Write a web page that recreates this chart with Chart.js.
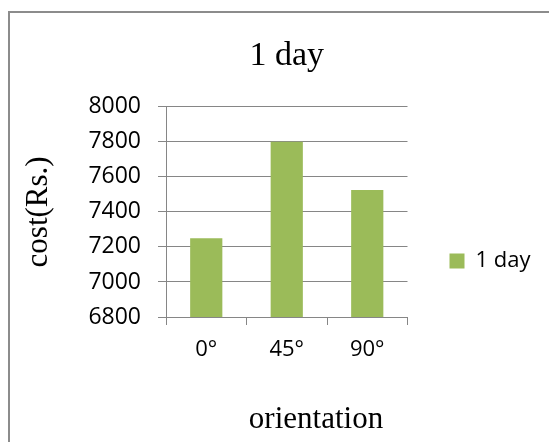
<!DOCTYPE html>
<html>
<head>
<meta charset="utf-8">
<title>1 day</title>
<script src="https://cdn.jsdelivr.net/npm/chart.js@4/dist/chart.umd.min.js"></script>
<style>
  html, body { margin: 0; padding: 0; background: #ffffff; overflow: hidden; }
  #wrap { width: 549px; height: 442px; overflow: hidden; }
  canvas { display: block; }
</style>
</head>
<body>
<div id="wrap"><canvas id="chart" width="549" height="510"></canvas></div>
<script>
// Cost in rupees for one day, by panel orientation
const categories = ['0°', '45°', '90°'];
const seriesName = '1 day';
const costValues = [7250, 7800, 7525];
const yTickMin = 6800;
const yTickMax = 8000;
const yTickStep = 200;
const xAxisCaption = 'orientation';

const SANS = '"Open Sans", "Liberation Sans", sans-serif';
const SERIF = '"Liberation Serif", "Times New Roman", serif';
const GRID = '#868686';

// Plain grey frame around the whole chart
const frame = {
  id: 'frame',
  beforeDraw(chart) {
    const ctx = chart.ctx;
    ctx.save();
    ctx.fillStyle = '#ffffff';
    ctx.fillRect(0, 0, chart.width, chart.height);
    ctx.strokeStyle = '#8c8c8c';
    ctx.lineWidth = 2;
    ctx.strokeRect(9, 12, chart.width + 20, chart.height + 20);
    ctx.restore();
  }
};

// Horizontal axis caption, set a little right of the plot centre
const xCaption = {
  id: 'xCaption',
  afterDraw(chart) {
    const { ctx, chartArea } = chart;
    ctx.save();
    ctx.fillStyle = '#000000';
    ctx.font = '31px ' + SERIF;
    ctx.textAlign = 'center';
    ctx.textBaseline = 'alphabetic';
    ctx.fillText(xAxisCaption, chartArea.left + 150, chartArea.bottom + 111);
    ctx.restore();
  }
};

new Chart(document.getElementById('chart'), {
  type: 'bar',
  data: {
    labels: categories,
    datasets: [{
      label: seriesName,
      data: costValues,
      backgroundColor: '#9BBB59',
      borderWidth: 0,
      barPercentage: 0.4,
      categoryPercentage: 1.0
    }]
  },
  options: {
    responsive: false,
    devicePixelRatio: 1,
    animation: false,
    layout: { padding: { top: 12, left: 10, right: 9, bottom: 0 } },
    plugins: {
      title: {
        display: true,
        text: '1 day',
        fullSize: false,
        color: '#000000',
        font: { family: SERIF, size: 34, weight: 'normal' },
        padding: { top: 24, bottom: 30 }
      },
      legend: {
        display: true,
        position: 'right',
        labels: {
          boxWidth: 15,
          boxHeight: 15,
          padding: 42,
          color: '#000000',
          font: { family: SANS, size: 22 }
        }
      },
      tooltip: { enabled: false }
    },
    scales: {
      x: {
        grid: {
          display: true,
          offset: true,
          drawOnChartArea: false,
          drawTicks: true,
          tickLength: 8,
          color: GRID
        },
        border: { display: true, color: GRID, width: 1 },
        ticks: {
          color: '#000000',
          font: { family: SANS, size: 22 },
          padding: 12
        },
        afterFit(scale) { scale.height = 193; }
      },
      y: {
        min: yTickMin,
        max: yTickMax,
        grid: {
          color: GRID,
          drawTicks: true,
          tickLength: 8
        },
        border: { display: true, color: GRID, width: 1 },
        ticks: {
          stepSize: yTickStep,
          format: { useGrouping: false },
          color: '#000000',
          font: { family: SANS, size: 23 },
          padding: 17
        },
        title: {
          display: true,
          text: 'cost(Rs.)',
          color: '#000000',
          font: { family: SERIF, size: 31, weight: 'normal' },
          padding: { top: 10, bottom: 0 }
        },
        afterFit(scale) { scale.width = 156; }
      }
    }
  },
  plugins: [frame, xCaption]
});
</script>
</body>
</html>
